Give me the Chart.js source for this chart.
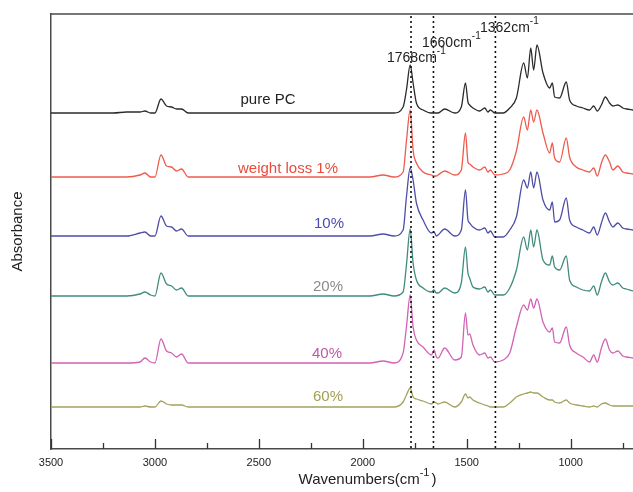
<!DOCTYPE html>
<html>
<head>
<meta charset="utf-8">
<script src="https://cdn.jsdelivr.net/npm/chart.js@4.4.0/dist/chart.umd.min.js"></script>
<style>
  html, body { margin: 0; padding: 0; background: #fff; }
  #wrap { width: 633px; height: 492px; }
</style>
</head>
<body>
<div id="wrap"><canvas id="chart"></canvas></div>
<script>
// FTIR spectra, pure PC and residues after weight loss

const wavenumbers = [
  3500, 3200, 3136, 3072, 3048, 3021, 3000, 2971, 2944, 2920, 2896, 2872, 2840, 2700, 2400, 2100,
  1966, 1902, 1850, 1806, 1790, 1772, 1758, 1742, 1710, 1670, 1657, 1646, 1638, 1606, 1558, 1526,
  1506, 1494, 1486, 1470, 1438, 1413, 1398, 1386, 1365, 1325, 1293, 1261, 1226, 1208, 1192, 1178,
  1162, 1133, 1101, 1088, 1077, 1053, 1021, 1005, 973, 941, 909, 889, 872, 852, 833, 813,
  797, 773, 749, 732, 700
];

const purePC = [
  3.36, 3.36, 3.37, 3.37, 3.38, 3.36, 3.36, 3.50, 3.43, 3.42, 3.40, 3.40, 3.36, 3.36, 3.36, 3.36,
  3.36, 3.36, 3.36, 3.42, 3.59, 3.84, 3.66, 3.46, 3.39, 3.36, 3.36, 3.36, 3.36, 3.40, 3.36, 3.42,
  3.66, 3.47, 3.44, 3.41, 3.38, 3.41, 3.37, 3.39, 3.36, 3.36, 3.41, 3.51, 3.86, 3.71, 4.01, 3.79,
  4.04, 3.76, 3.61, 3.66, 3.52, 3.51, 3.67, 3.49, 3.43, 3.41, 3.39, 3.43, 3.38, 3.44, 3.52, 3.46,
  3.43, 3.44, 3.41, 3.40, 3.39
];

const loss1 = [
  2.72, 2.72, 2.72, 2.74, 2.76, 2.72, 2.72, 2.94, 2.83, 2.82, 2.78, 2.80, 2.72, 2.72, 2.72, 2.72,
  2.72, 2.74, 2.72, 2.77, 3.08, 3.39, 2.99, 2.86, 2.77, 2.74, 2.73, 2.73, 2.74, 2.78, 2.74, 2.79,
  3.16, 2.87, 2.85, 2.82, 2.79, 2.82, 2.77, 2.79, 2.74, 2.75, 2.79, 2.98, 3.32, 3.19, 3.39, 3.27,
  3.39, 3.16, 2.96, 3.06, 2.91, 2.87, 3.11, 2.92, 2.82, 2.79, 2.77, 2.81, 2.73, 2.86, 2.94, 2.87,
  2.79, 2.83, 2.77, 2.76, 2.75
];

const loss10 = [
  2.13, 2.13, 2.13, 2.16, 2.17, 2.13, 2.13, 2.33, 2.23, 2.22, 2.18, 2.20, 2.13, 2.13, 2.13, 2.13,
  2.13, 2.15, 2.13, 2.19, 2.52, 2.81, 2.69, 2.46, 2.29, 2.16, 2.17, 2.13, 2.14, 2.20, 2.13, 2.19,
  2.59, 2.29, 2.26, 2.22, 2.19, 2.21, 2.16, 2.18, 2.12, 2.12, 2.19, 2.32, 2.69, 2.61, 2.77, 2.61,
  2.77, 2.49, 2.39, 2.47, 2.27, 2.29, 2.51, 2.29, 2.22, 2.19, 2.16, 2.22, 2.14, 2.26, 2.36, 2.27,
  2.22, 2.26, 2.21, 2.20, 2.19
];

const loss20 = [
  1.53, 1.53, 1.53, 1.55, 1.57, 1.54, 1.53, 1.76, 1.65, 1.63, 1.59, 1.61, 1.53, 1.53, 1.53, 1.53,
  1.53, 1.55, 1.53, 1.57, 1.84, 2.20, 1.86, 1.69, 1.61, 1.57, 1.59, 1.56, 1.56, 1.61, 1.56, 1.66,
  2.02, 1.76, 1.71, 1.62, 1.60, 1.62, 1.57, 1.59, 1.54, 1.54, 1.61, 1.79, 2.12, 1.99, 2.19, 2.02,
  2.19, 1.89, 1.84, 1.93, 1.82, 1.79, 1.93, 1.69, 1.62, 1.59, 1.58, 1.63, 1.54, 1.67, 1.76, 1.67,
  1.64, 1.66, 1.61, 1.60, 1.58
];

const loss40 = [
  0.86, 0.86, 0.86, 0.87, 0.91, 0.87, 0.86, 1.10, 0.98, 0.96, 0.92, 0.95, 0.86, 0.86, 0.86, 0.86,
  0.86, 0.88, 0.86, 0.96, 1.22, 1.54, 1.22, 1.09, 1.02, 0.94, 0.99, 0.92, 0.91, 1.01, 0.89, 0.92,
  1.36, 1.14, 1.15, 1.04, 0.94, 0.96, 0.91, 0.92, 0.87, 0.89, 0.96, 1.22, 1.44, 1.39, 1.50, 1.41,
  1.50, 1.27, 1.17, 1.21, 1.07, 1.06, 1.22, 1.04, 0.96, 0.92, 0.87, 0.94, 0.87, 1.01, 1.10, 0.99,
  0.96, 0.98, 0.93, 0.92, 0.91
];

const loss60 = [
  0.42, 0.42, 0.42, 0.42, 0.43, 0.42, 0.42, 0.48, 0.45, 0.44, 0.44, 0.44, 0.42, 0.42, 0.42, 0.42,
  0.42, 0.42, 0.42, 0.47, 0.54, 0.61, 0.52, 0.50, 0.48, 0.45, 0.47, 0.46, 0.45, 0.47, 0.42, 0.47,
  0.55, 0.51, 0.52, 0.49, 0.46, 0.44, 0.43, 0.42, 0.42, 0.42, 0.46, 0.52, 0.55, 0.56, 0.57, 0.56,
  0.56, 0.52, 0.49, 0.49, 0.47, 0.46, 0.49, 0.46, 0.44, 0.43, 0.42, 0.43, 0.42, 0.45, 0.46, 0.44,
  0.43, 0.43, 0.43, 0.43, 0.43
];

const seriesNames = ['pure PC', 'weight loss 1%', '10%', '20%', '40%', '60%'];
const markedPeaks = [1768, 1660, 1362];
const xTicks = [3500, 3250, 3000, 2750, 2500, 2250, 2000, 1750, 1500, 1250, 1000, 750];

// 样式
const lineColors = ['#2b2b2b', '#ef5a4c', '#4d4ea6', '#3f8c7d', '#d162b4', '#a3a25e'];
const nameColors = ['#222222', '#e94b3c', '#4a4aae', '#8a8a8a', '#c257a6', '#a09f52'];
const namePos = [[268, 100], [288, 169], [329, 224], [328, 287], [327, 354], [328, 397]];
const peakTextPos = [[387, 58], [422, 43], [480, 28]];
const FONT = '"Liberation Sans", Arial, sans-serif';

const allSeries = [purePC, loss1, loss10, loss20, loss40, loss60];

// 上标文字, e.g. cm-1
function drawSup(ctx, base, sup, x, y, size, align) {
  ctx.font = size + 'px ' + FONT;
  const wBase = ctx.measureText(base).width;
  ctx.font = Math.round(size * 0.7) + 'px ' + FONT;
  const wSup = ctx.measureText(sup).width;
  let left = x;
  if (align === 'center') left = x - (wBase + wSup) / 2;
  ctx.textAlign = 'left';
  ctx.textBaseline = 'middle';
  ctx.font = size + 'px ' + FONT;
  ctx.fillText(base, left, y);
  ctx.font = Math.round(size * 0.7) + 'px ' + FONT;
  ctx.fillText(sup, left + wBase, y - size * 0.45);
  return left + wBase + wSup;
}

const decorations = {
  id: 'decorations',
  afterDatasetsDraw(chart) {
    const { ctx, chartArea: a, scales: { x } } = chart;
    ctx.save();

    // top frame line
    ctx.strokeStyle = '#4a4a4a';
    ctx.lineWidth = 1.5;
    ctx.beginPath();
    ctx.moveTo(a.left, a.top);
    ctx.lineTo(a.right, a.top);
    ctx.stroke();

    // inward tick marks
    ctx.strokeStyle = '#333';
    ctx.lineWidth = 1.3;
    xTicks.forEach(v => {
      const px = Math.round(x.getPixelForValue(v)) + 0.5;
      const len = v % 500 === 0 ? 10 : 6;
      ctx.beginPath();
      ctx.moveTo(px, a.bottom);
      ctx.lineTo(px, a.bottom - len);
      ctx.stroke();
    });

    // dotted peak markers
    ctx.strokeStyle = '#111';
    ctx.lineWidth = 1.6;
    ctx.setLineDash([2, 3]);
    markedPeaks.forEach(v => {
      const px = x.getPixelForValue(v);
      ctx.beginPath();
      ctx.moveTo(px, a.top + 2);
      ctx.lineTo(px, a.bottom);
      ctx.stroke();
    });
    ctx.setLineDash([]);

    // peak annotations
    ctx.fillStyle = '#222';
    markedPeaks.forEach((v, i) => {
      drawSup(ctx, v + 'cm', '-1', peakTextPos[i][0], peakTextPos[i][1], 14, 'left');
    });

    // series names
    ctx.font = '15px ' + FONT;
    ctx.textAlign = 'center';
    ctx.textBaseline = 'middle';
    seriesNames.forEach((n, i) => {
      ctx.fillStyle = nameColors[i];
      ctx.fillText(n, namePos[i][0], namePos[i][1]);
    });

    // axis titles
    ctx.fillStyle = '#222';
    const end = drawSup(ctx, 'Wavenumbers(cm', '-1', 368 - 4, 480, 15, 'center');
    ctx.font = '15px ' + FONT;
    ctx.fillText(')', end + 2, 480);

    ctx.save();
    ctx.translate(18, (a.top + a.bottom) / 2);
    ctx.rotate(-Math.PI / 2);
    ctx.textAlign = 'center';
    ctx.fillText('Absorbance', 0, 0);
    ctx.restore();

    ctx.restore();
  }
};

new Chart(document.getElementById('chart'), {
  type: 'line',
  data: {
    datasets: allSeries.map((vals, i) => ({
      label: seriesNames[i],
      data: wavenumbers.map((w, j) => ({ x: w, y: vals[j] })),
      borderColor: lineColors[i],
      borderWidth: 1.3,
      pointRadius: 0,
      fill: false,
      cubicInterpolationMode: 'monotone'
    }))
  },
  options: {
    responsive: true,
    maintainAspectRatio: false,
    animation: false,
    layout: { padding: { top: 14, right: 0, left: 0, bottom: 0 } },
    plugins: {
      legend: { display: false },
      tooltip: { enabled: false }
    },
    scales: {
      x: {
        type: 'linear',
        reverse: true,
        min: 700,
        max: 3500,
        afterBuildTicks: s => { s.ticks = xTicks.map(v => ({ value: v })); },
        afterFit: s => { s.height = 43; },
        grid: { display: false, drawTicks: false },
        border: { display: true, color: '#4a4a4a', width: 1.5 },
        ticks: {
          autoSkip: false,
          maxRotation: 0,
          padding: 7,
          color: '#222',
          font: { family: FONT, size: 11 },
          callback: v => (v % 500 === 0 ? String(v) : '')
        }
      },
      y: {
        min: 0,
        max: 4.35,
        afterFit: s => { s.width = 51; },
        grid: { display: false, drawTicks: false },
        border: { display: true, color: '#4a4a4a', width: 1.5 },
        ticks: { display: false }
      }
    }
  },
  plugins: [decorations]
});
</script>
</body>
</html>
